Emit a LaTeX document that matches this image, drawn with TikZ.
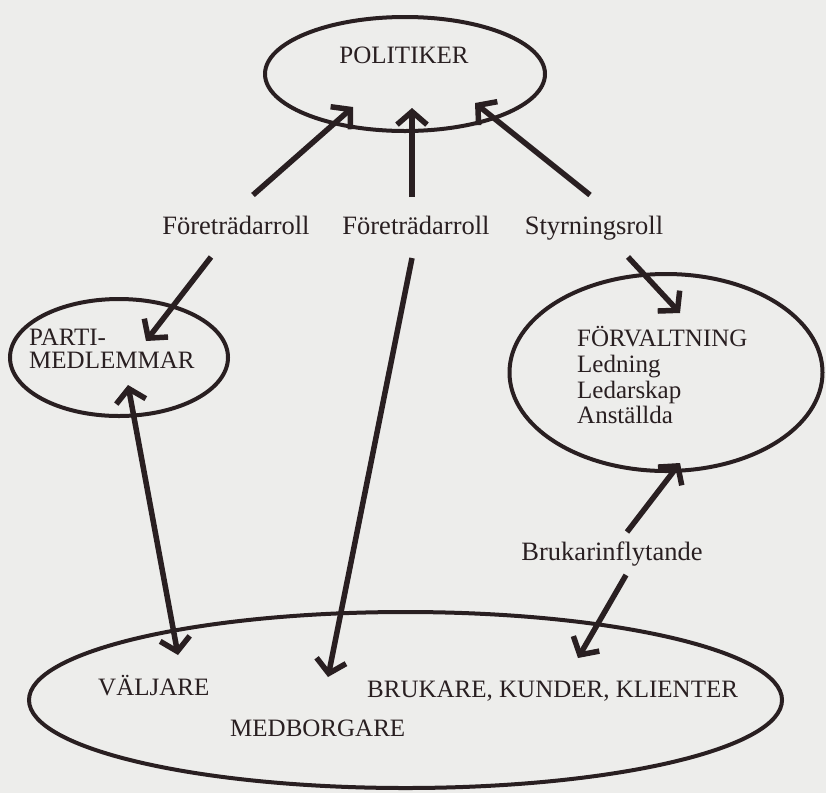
\documentclass[tikz,border=0pt]{standalone}
\usepackage{fontspec}
\setmainfont{Liberation Serif}
\usetikzlibrary{arrows.meta,shapes.geometric}
\definecolor{zzttqq}{rgb}{0.16,0.12,0.13}
\definecolor{eeeeec}{rgb}{0.93,0.93,0.92}

\begin{document}
\begin{tikzpicture}[line cap=butt,line join=miter,x=1pt,y=-1pt,
    >={Straight Barb[length=13pt,width=30pt,line width=5.5pt,sharp]},
    ring/.style={draw=zzttqq,line width=4pt,ellipse,inner sep=0pt},
    lbl/.style={text=zzttqq,font=\fontsize{25}{25}\selectfont,inner sep=0pt,anchor=base},
    pil/.style={draw=zzttqq,line width=5.5pt,->}]
    \fill[eeeeec] (0,0) rectangle (826,793);
    \useasboundingbox (0,0) rectangle (826,793);
    % the four groups
    \node[ring,minimum width=280pt,minimum height=114pt] (pol) at (405,74) {};
    \node[ring,minimum width=218pt,minimum height=117pt] (parti) at (119,357.5) {};
    \node[ring,minimum width=313pt,minimum height=197pt] (forv) at (666,372.5) {};
    \node[ring,minimum width=753pt,minimum height=176pt] (medb) at (405.5,700) {};
    % texts
    \node[lbl] (poltxt) at (404,63) {POLITIKER};
    \node[lbl,font=\fontsize{26.5}{26.5}\selectfont] (fr1) at (236,234) {Företrädarroll};
    \node[lbl,font=\fontsize{26.5}{26.5}\selectfont] (fr2) at (416,234) {Företrädarroll};
    \node[lbl,font=\fontsize{26.5}{26.5}\selectfont] (sty) at (594,234) {Styrningsroll};
    \node[lbl,anchor=base west] (parti1) at (29,345) {PARTI-};
    \node[lbl,anchor=base west] (parti2) at (29,368) {MEDLEMMAR};
    \node[lbl,anchor=base west] (forv1) at (577,346) {FÖRVALTNING};
    \node[lbl,anchor=base west] (forv2) at (577,372) {Ledning};
    \node[lbl,anchor=base west] (forv3) at (577,398) {Ledarskap};
    \node[lbl,anchor=base west] (forv4) at (577,423) {Anställda};
    \node[lbl,font=\fontsize{26.5}{26.5}\selectfont] (bruk) at (612,560) {Brukarinflytande};
    \node[lbl,anchor=base west] (valj) at (98,695) {VÄLJARE};
    \node[lbl,anchor=base west] (medtxt) at (230,736) {MEDBORGARE};
    \node[lbl,anchor=base west] (kund) at (367,697) {BRUKARE, KUNDER, KLIENTER};
    % arrow ends
    \coordinate (fr1u) at (253,195);
    \coordinate (fr1d) at (211,257);
    \coordinate (fr2u) at (412,197);
    \coordinate (fr2d) at (412,258);
    \coordinate (styu) at (590,195);
    \coordinate (styd) at (628,257);
    \coordinate (bruku) at (627,532);
    \coordinate (brukd) at (626,575);
    \coordinate (polA) at (353,107);
    \coordinate (polB) at (412,108);
    \coordinate (polC) at (475,103);
    \coordinate (partiA) at (146,341);
    \coordinate (partiB) at (128,385);
    \coordinate (forvA) at (680,313);
    \coordinate (forvB) at (680,463);
    \coordinate (valjA) at (178,655);
    \coordinate (medbA) at (328,677);
    \coordinate (medbB) at (578,658);
    \draw[pil] (fr1u) -- (polA);
    \draw[pil] (fr2u) -- (polB);
    \draw[pil] (styu) -- (polC);
    \draw[pil] (fr1d) -- (partiA);
    \draw[pil] (fr2d) -- (medbA);
    \draw[pil] (styd) -- (forvA);
    \draw[pil,<->] (partiB) -- (valjA);
    \draw[pil] (bruku) -- (forvB);
    \draw[pil] (brukd) -- (medbB);
\end{tikzpicture}
\end{document}
